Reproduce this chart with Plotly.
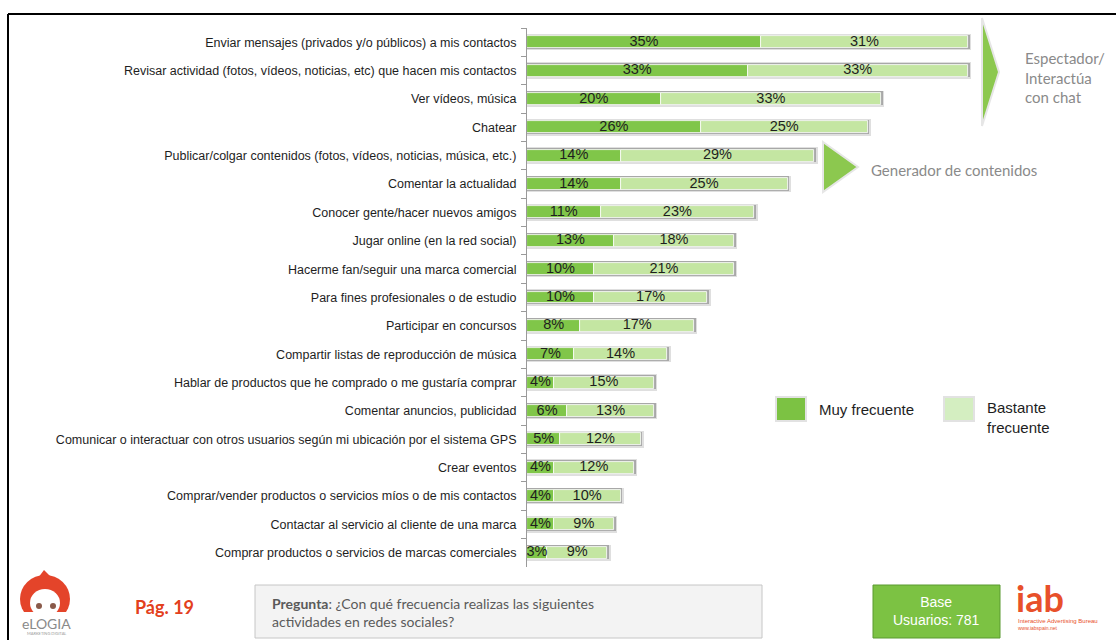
import plotly.graph_objects as go

categorias = [
    "Enviar mensajes (privados y/o públicos) a mis contactos",
    "Revisar actividad (fotos, vídeos, noticias, etc) que hacen mis contactos",
    "Ver vídeos, música",
    "Chatear",
    "Publicar/colgar contenidos (fotos, vídeos, noticias, música, etc.)",
    "Comentar la actualidad",
    "Conocer gente/hacer nuevos amigos",
    "Jugar online (en la red social)",
    "Hacerme fan/seguir una marca comercial",
    "Para fines profesionales o de estudio",
    "Participar en concursos",
    "Compartir listas de reproducción de música",
    "Hablar de productos que he comprado o me gustaría comprar",
    "Comentar anuncios, publicidad",
    "Comunicar o interactuar con otros usuarios según mi ubicación por el sistema GPS",
    "Crear eventos",
    "Comprar/vender productos o servicios míos o de mis contactos",
    "Contactar al servicio al cliente de una marca",
    "Comprar productos o servicios de marcas comerciales",
]
muy_frecuente = [35, 33, 20, 26, 14, 14, 11, 13, 10, 10, 8, 7, 4, 6, 5, 4, 4, 4, 3]
bastante_frecuente = [31, 33, 33, 25, 29, 25, 23, 18, 21, 17, 17, 14, 15, 13, 12, 12, 10, 9, 9]

total = [a + b for a, b in zip(muy_frecuente, bastante_frecuente)]
mid_muy = [a / 2 for a in muy_frecuente]
mid_bas = [a + b / 2 for a, b in zip(muy_frecuente, bastante_frecuente)]

W, H = 1116, 640
L, R, T, B = 527, 1, 28, 73
PW, PH = W - L - R, H - T - B


def px(x):
    return (x - L) / PW


def py(y):
    return (H - B - y) / PH


C_DARK = "#80c649"
C_LIGHT = "#c4e6a2"
FONT = "Liberation Sans, Arial, sans-serif"
FONT2 = "Lato, Open Sans, sans-serif"

fig = go.Figure()
# shadow
fig.add_trace(go.Bar(y=categorias, x=[t + 0.5 for t in total], base=0, orientation="h",
                     width=0.58, marker=dict(color="rgba(110,110,110,0.22)", line_width=0),
                     hoverinfo="skip", showlegend=False))
fig.add_trace(go.Bar(y=categorias, x=[t + 0.25 for t in total], base=0, orientation="h",
                     width=0.5, offset=-0.27, marker=dict(color="rgba(80,80,80,0.38)", line_width=0),
                     hoverinfo="skip", showlegend=False))
fig.add_trace(go.Bar(y=categorias, x=muy_frecuente, base=0, orientation="h", width=0.42,
                     name="Muy frecuente",
                     marker=dict(color=C_DARK, line=dict(color="white", width=0.8))))
fig.add_trace(go.Bar(y=categorias, x=bastante_frecuente, base=muy_frecuente, orientation="h",
                     width=0.42, name="Bastante frecuente",
                     marker=dict(color=C_LIGHT, line=dict(color="white", width=0.8))))
fig.add_trace(go.Scatter(y=categorias, x=mid_muy, mode="text",
                         text=[f"{v}%" for v in muy_frecuente],
                         textfont=dict(family=FONT, size=14.5, color="#1e1e1e"),
                         hoverinfo="skip", showlegend=False))
fig.add_trace(go.Scatter(y=categorias, x=mid_bas, mode="text",
                         text=[f"{v}%" for v in bastante_frecuente],
                         textfont=dict(family=FONT, size=14.5, color="#1e1e1e"),
                         hoverinfo="skip", showlegend=False))

shapes = []
annotations = []

# frame
shapes.append(dict(type="line", xref="paper", yref="paper", x0=px(8), x1=px(1116), y0=py(14), y1=py(14),
                   line=dict(color="black", width=2)))
shapes.append(dict(type="line", xref="paper", yref="paper", x0=px(8), x1=px(8), y0=py(14), y1=py(640),
                   line=dict(color="black", width=2)))


def poly(points, fill, line="#e6e6e6", lw=2):
    p = "M " + " L ".join(f"{px(x):.5f},{py(y):.5f}" for x, y in points) + " Z"
    return dict(type="path", xref="paper", yref="paper", path=p, fillcolor=fill,
                line=dict(color=line, width=lw))


def rect(x0, y0, x1, y1, fill, line="rgba(0,0,0,0)", lw=0):
    return dict(type="rect", xref="paper", yref="paper", x0=px(x0), x1=px(x1), y0=py(y1), y1=py(y0),
                fillcolor=fill, line=dict(color=line, width=lw))


def text(x, y, s, size, color, xanchor="left", family=FONT2, yanchor="middle", align="left"):
    annotations.append(dict(xref="paper", yref="paper", x=px(x), y=py(y), text=s, showarrow=False,
                            xanchor=xanchor, yanchor=yanchor, align=align,
                            font=dict(family=family, size=size, color=color)))


# arrows
shapes.append(poly([(982, 18), (999, 72), (982, 126)], "#8cc84f"))
shapes.append(poly([(823, 142), (858, 167), (823, 192)], "#8cc84f"))
text(1023, 77, "Espectador/<br>Interactúa<br>con chat", 15, "#8a8a8a")
text(869, 170, "Generador de contenidos", 15, "#8a8a8a")

# legend
shapes.append(rect(776, 397, 806, 421, "#7cc243", "#e2e2e2", 2))
shapes.append(rect(944, 397, 974, 421, "#d4eec1", "#e2e2e2", 2))
text(817, 410, "Muy frecuente", 15, "#1e1e1e", family=FONT)
text(985, 417, "Bastante<br>frecuente", 15, "#1e1e1e", family=FONT)

# elogia logo
shapes.append(dict(type="circle", xref="paper", yref="paper", x0=px(20), x1=px(70), y0=py(623), y1=py(575),
                   fillcolor="#e4442a", line_width=0))
shapes.append(poly([(38, 578), (44, 570), (50, 576)], "#e4442a", "#e4442a", 0))
shapes.append(dict(type="circle", xref="paper", yref="paper", x0=px(30), x1=px(60), y0=py(617), y1=py(589),
                   fillcolor="white", line_width=0))
shapes.append(rect(16, 612, 76, 626, "white"))
shapes.append(dict(type="circle", xref="paper", yref="paper", x0=px(36), x1=px(42), y0=py(609), y1=py(603),
                   fillcolor="#8a5a4a", line_width=0))
shapes.append(dict(type="circle", xref="paper", yref="paper", x0=px(50), x1=px(56), y0=py(609), y1=py(603),
                   fillcolor="#8a5a4a", line_width=0))
text(46, 623, "eLOGIA", 14, "#8a8a8a", xanchor="center", family=FONT2)
text(46, 633, "MARKETING DIGITAL", 4, "#9a9a9a", xanchor="center")

text(133, 607, "<b>Pág. 19</b>", 18, "#e3401c", family=FONT2)

# pregunta box
shapes.append(rect(255, 585, 762, 638, "#f3f3f3", "#c6c6c6", 1))
text(270, 612, "<b>Pregunta</b>: ¿Con qué frecuencia realizas las siguientes<br>actividades en redes sociales?",
     14, "#5a5a5a", family=FONT2)

# base box
shapes.append(rect(873, 585, 1000, 638, "#7cc243", "#5a9a30", 1))
text(936, 611, "Base<br>Usuarios: 781", 14, "white", xanchor="center", family=FONT, align="center")

# iab logo
text(1014, 598, "<b>iab</b>", 36, "#e8502a", family="Lato, sans-serif")
text(1016, 621, "Interactive Advertising Bureau", 6, "#e8502a", family=FONT)
text(1016, 628, "www.iabspain.net", 5, "#e8502a", family=FONT)

fig.update_layout(
    width=W, height=H,
    margin=dict(l=L, r=R, t=T, b=B, autoexpand=False),
    barmode="overlay",
    bargap=0,
    showlegend=False,
    plot_bgcolor="white",
    paper_bgcolor="white",
    shapes=shapes,
    annotations=annotations,
    xaxis=dict(range=[0, 88], visible=False, fixedrange=True),
    yaxis=dict(range=[len(categorias) - 0.5, -0.5], showline=True, linecolor="#9a9a9a", linewidth=1,
               ticks="outside", tickson="boundaries", ticklen=5, tickcolor="#9a9a9a",
               tickfont=dict(family=FONT, size=12.5, color="#1e1e1e"), ticklabelstandoff=7,
               showgrid=False, zeroline=False),
)

fig.write_html("out.html")
